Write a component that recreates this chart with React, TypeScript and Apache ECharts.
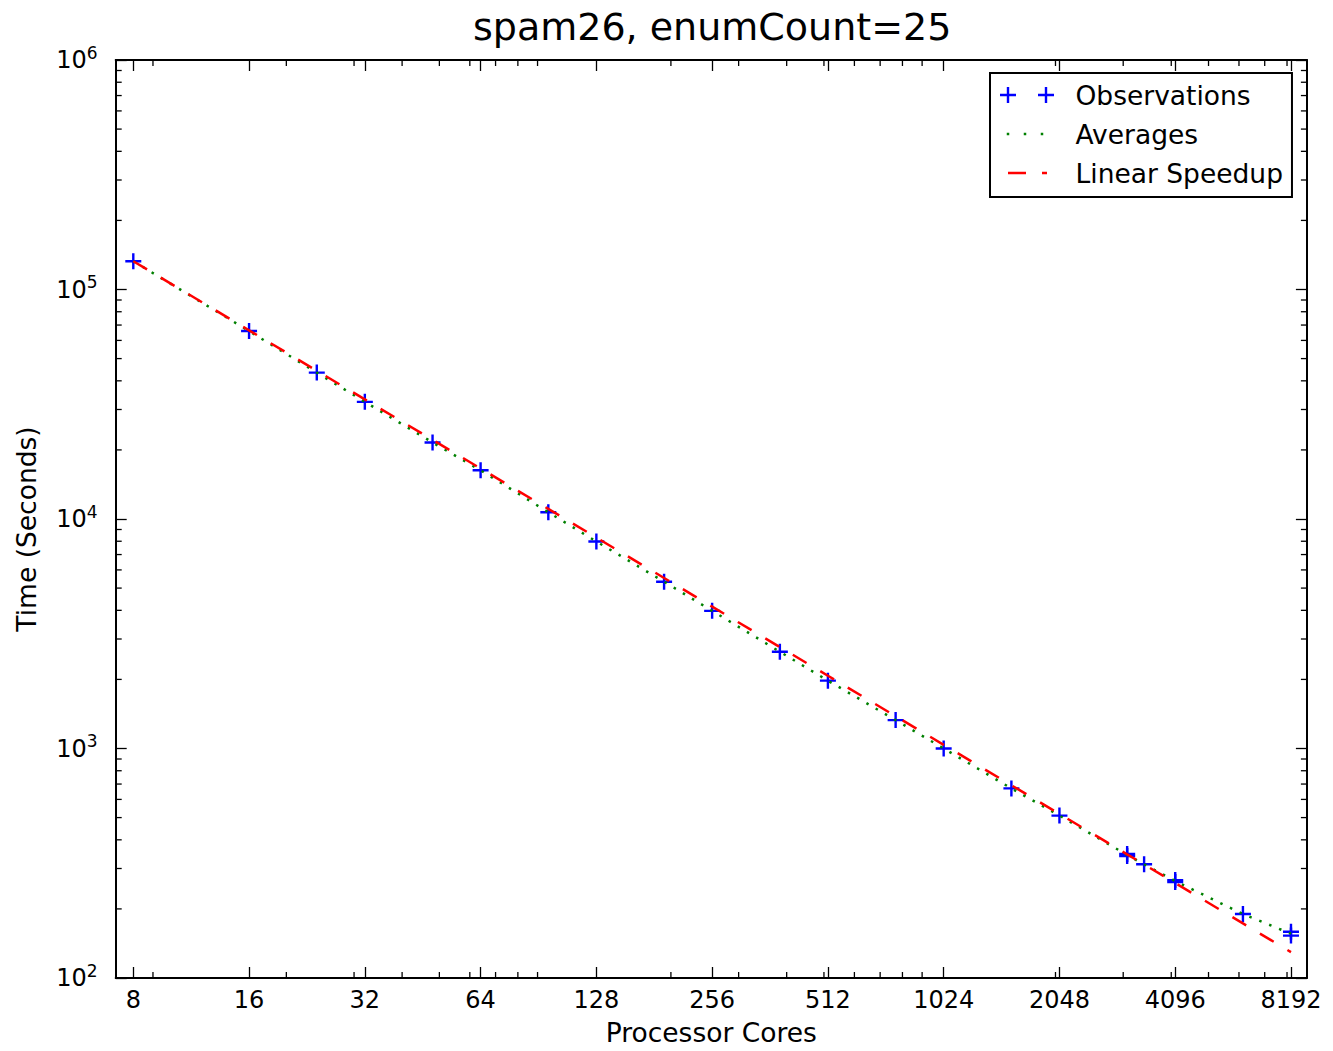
import React, { useEffect, useRef } from "react";
import * as echarts from "echarts";

const titleText = "spam26, enumCount=25";
const xName = "Processor Cores";
const yName = "Time (Seconds)";
const legendNames = ["Observations", "Averages", "Linear Speedup"];

// Observations (cores, seconds)
const obsCores = [8, 16, 24, 32, 48, 64, 96, 128, 192, 256, 384, 512, 768, 1024, 1536, 2048, 3072, 3072, 3400, 4096, 4096, 6144, 8192, 8192];
const obsTimes = [132800, 65900, 43450, 32400, 21550, 16300, 10700, 7980, 5330, 3980, 2640, 1975, 1330, 1000, 670, 510, 347, 340, 313, 267, 262, 190, 159, 153];

// Averages
const avgCores = [8, 16, 24, 32, 48, 64, 96, 128, 192, 256, 384, 512, 768, 1024, 1536, 2048, 3072, 3400, 4096, 6144, 8192];
const avgTimes = [132800, 65900, 43450, 32400, 21550, 16300, 10700, 7980, 5330, 3980, 2640, 1975, 1330, 1000, 670, 510, 343.5, 313, 264.5, 190, 156];

// Linear speedup
const linCores = [8, 16, 24, 32, 48, 64, 96, 128, 192, 256, 384, 512, 768, 1024, 1536, 2048, 3072, 3400, 4096, 6144, 8192];
const linTimes = [132800, 66400, 44267, 33200, 22133, 16600, 11067, 8300, 5533, 4150, 2767, 2075, 1383, 1037.5, 691.7, 518.8, 345.8, 312.5, 259.4, 172.9, 129.7];

// Tick values
const xMajorTicks = [8, 16, 32, 64, 128, 256, 512, 1024, 2048, 4096, 8192];
const xMinorTicks = [9, 20, 30, 40, 50, 60, 70, 80, 90, 200, 300, 400, 500, 600, 700, 800, 900, 2000, 3000, 4000, 5000, 6000, 7000, 8000, 9000];
const yMajorTicks = [100, 1000, 10000, 100000, 1000000];
const yMinorTicks = [
  200, 300, 400, 500, 600, 700, 800, 900,
  2000, 3000, 4000, 5000, 6000, 7000, 8000, 9000,
  20000, 30000, 40000, 50000, 60000, 70000, 80000, 90000,
  200000, 300000, 400000, 500000, 600000, 700000, 800000, 900000,
];
const xRange = [7.2, 9011.2];
const yRange = [100, 1000000];

const FONT = "DejaVu Sans";
const PLUS = "path://M6.8,0H9.2V6.8H16V9.2H9.2V16H6.8V9.2H0V6.8H6.8Z";
const CORNERS = "M0,0H0.01V0.01Z M54,16H53.99V15.99Z";
const ICON_OBS =
  "path://M6.8,0H9.2V6.8H16V9.2H9.2V16H6.8V9.2H0V6.8H6.8Z M44.8,0H47.2V6.8H54V9.2H47.2V16H44.8V9.2H38V6.8H44.8Z";
const ICON_AVG =
  "path://" + CORNERS + " M6.75,6.75h2.5v2.5h-2.5Z M23.75,6.75h2.5v2.5h-2.5Z M40.75,6.75h2.5v2.5h-2.5Z";
const ICON_LIN = "path://" + CORNERS + " M8,6.75H26V9.25H8Z M42,6.75H47V9.25H42Z";

export default function App() {
  const ref = useRef<HTMLDivElement>(null);
  useEffect(() => {
    if (!ref.current) return;
    const chart = echarts.init(ref.current, null, { renderer: "svg" });
    const baseX = {
      type: "log",
      logBase: 2,
      min: xRange[0],
      max: xRange[1],
      axisLine: { show: true, lineStyle: { color: "#000", width: 2 } },
      axisTick: {
        show: true,
        inside: true,
        length: 11,
        customValues: xMajorTicks,
        lineStyle: { color: "#000", width: 1.3 },
      },
      splitLine: { show: false },
      minorTick: { show: false },
    };
    const baseY = {
      type: "log",
      logBase: 10,
      min: yRange[0],
      max: yRange[1],
      splitNumber: 4,
      axisLine: { show: true, lineStyle: { color: "#000", width: 2 } },
      axisTick: {
        show: true,
        inside: true,
        length: 11,
        customValues: yMajorTicks,
        lineStyle: { color: "#000", width: 1.3 },
      },
      splitLine: { show: false },
      minorTick: { show: false },
    };
    const tickStyle = { stroke: "#000", lineWidth: 1.3 };
    const option: any = {
      animation: false,
      backgroundColor: "#fff",
      title: {
        text: titleText,
        left: 473,
        top: 8,
        padding: 0,
        textStyle: { fontFamily: FONT, fontSize: 38, fontWeight: "normal", color: "#000" },
      },
      grid: { left: 115.7, top: 60, right: 26.1, bottom: 71, containLabel: false },
      legend: {
        orient: "vertical",
        left: 990,
        top: 73,
        data: [
          { name: legendNames[0], icon: ICON_OBS },
          { name: legendNames[1], icon: ICON_AVG },
          { name: legendNames[2], icon: ICON_LIN },
        ],
        itemWidth: 54,
        itemHeight: 16,
        itemGap: 9,
        padding: [7, 9, 9, 10],
        borderColor: "#000",
        borderWidth: 2,
        borderRadius: 0,
        backgroundColor: "#fff",
        selectedMode: false,
        textStyle: { fontFamily: FONT, fontSize: 26.5, color: "#000", lineHeight: 30, padding: [0, 0, 0, 16.5] },
      },
      xAxis: [
        {
          ...baseX,
          position: "bottom",
          name: xName,
          nameLocation: "middle",
          nameGap: 41,
          nameTextStyle: { fontFamily: FONT, fontSize: 26.5, color: "#000" },
          axisLabel: {
            show: true,
            margin: 10,
            customValues: xMajorTicks,
            fontFamily: FONT,
            fontSize: 24,
            color: "#000",
            formatter: (v: number) => String(Math.round(v)),
          },
        },
        { ...baseX, position: "top", axisLabel: { show: false } },
      ],
      yAxis: [
        {
          ...baseY,
          position: "left",
          name: yName,
          nameLocation: "middle",
          nameGap: 76,
          nameTextStyle: { fontFamily: FONT, fontSize: 26.5, color: "#000", padding: [0, 20, 0, 0] },
          axisLabel: {
            show: true,
            margin: 18,
            customValues: yMajorTicks,
            fontFamily: FONT,
            color: "#000",
            formatter: (v: number) => `{b|10}{s|${Math.round(Math.log10(v))}}`,
            rich: {
              b: { fontFamily: FONT, fontSize: 24, lineHeight: 32, color: "#000" },
              s: { fontFamily: FONT, fontSize: 17, lineHeight: 17, verticalAlign: "top", color: "#000" },
            },
          },
        },
        { ...baseY, position: "right", axisLabel: { show: false } },
      ],
      series: [
        {
          name: legendNames[0],
          type: "scatter",
          xAxisIndex: 0,
          yAxisIndex: 0,
          data: obsCores.map((c, i) => [c, obsTimes[i]]),
          symbol: PLUS,
          symbolSize: 16,
          itemStyle: { color: "#0000ff", opacity: 1 },
          z: 2,
        },
        {
          name: legendNames[1],
          type: "line",
          xAxisIndex: 0,
          yAxisIndex: 0,
          data: avgCores.map((c, i) => [c, avgTimes[i]]),
          symbol: "none",
          itemStyle: { color: "#008000" },
          lineStyle: { color: "#008000", width: 2.5, type: [2.5, 8.2] },
          z: 3,
        },
        {
          name: legendNames[2],
          type: "line",
          xAxisIndex: 0,
          yAxisIndex: 0,
          data: linCores.map((c, i) => [c, linTimes[i]]),
          symbol: "none",
          itemStyle: { color: "#ff0000" },
          lineStyle: { color: "#ff0000", width: 2.5, type: [16, 16] },
          z: 4,
        },
        {
          name: "xMinor",
          type: "custom",
          xAxisIndex: 0,
          yAxisIndex: 0,
          silent: true,
          clip: false,
          data: xMinorTicks.map((v) => [v, 1000]),
          renderItem: (params: any, api: any) => {
            const cs = params.coordSys;
            const px = api.coord([api.value(0), api.value(1)])[0];
            const yb = cs.y + cs.height;
            return {
              type: "group",
              children: [
                { type: "line", shape: { x1: px, y1: yb, x2: px, y2: yb - 6 }, style: tickStyle },
                { type: "line", shape: { x1: px, y1: cs.y, x2: px, y2: cs.y + 6 }, style: tickStyle },
              ],
            };
          },
          z: 5,
        },
        {
          name: "yMinor",
          type: "custom",
          xAxisIndex: 0,
          yAxisIndex: 0,
          silent: true,
          clip: false,
          data: yMinorTicks.map((v) => [64, v]),
          renderItem: (params: any, api: any) => {
            const cs = params.coordSys;
            const py = api.coord([api.value(0), api.value(1)])[1];
            const xr = cs.x + cs.width;
            return {
              type: "group",
              children: [
                { type: "line", shape: { x1: cs.x, y1: py, x2: cs.x + 6, y2: py }, style: tickStyle },
                { type: "line", shape: { x1: xr, y1: py, x2: xr - 6, y2: py }, style: tickStyle },
              ],
            };
          },
          z: 5,
        },
      ],
    };
    chart.setOption(option);
    return () => chart.dispose();
  }, []);
  return (
    <div
      ref={ref}
      style={{ position: "absolute", left: 0, top: 0, width: 1333, height: 1051, background: "#fff" }}
    />
  );
}
